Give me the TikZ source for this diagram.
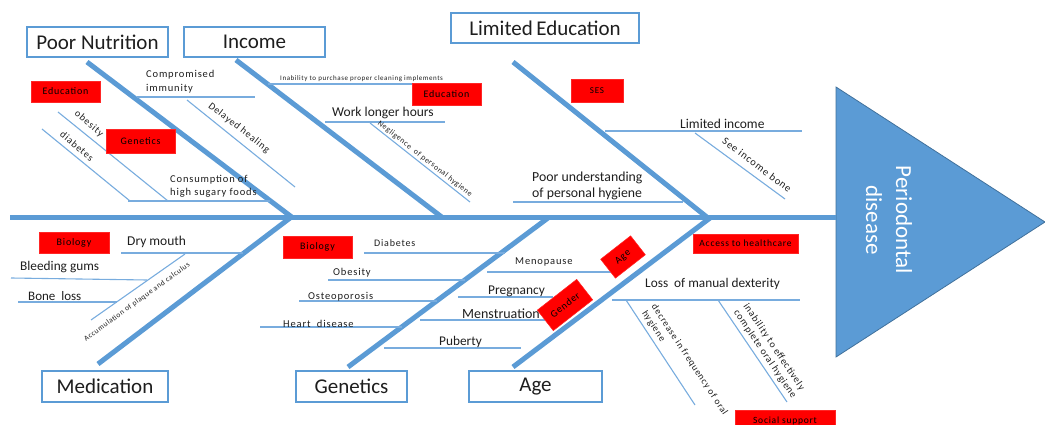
\documentclass[tikz,border=0pt]{standalone}
\usepackage{fontspec}
\setmainfont{Carlito}
\newfontfamily\widefont[LetterSpace=8]{Carlito}
\definecolor{fb}{RGB}{91,155,213}
\definecolor{fbl}{RGB}{120,172,222}
\definecolor{fbd}{RGB}{65,113,156}
\definecolor{tx}{RGB}{30,30,30}
\newcommand{\fs}[1]{\fontsize{#1}{#1}\selectfont}
\newcommand{\ws}[1]{\widefont\fontsize{#1}{#1}\selectfont}
\tikzset{
  bone/.style={line width=5pt, draw=fb},
  twig/.style={line width=1.1pt, draw=fbl},
  catbox/.style={draw=fb, line width=1.2pt, fill=white, text=tx, font=\fs{21}, inner sep=0pt},
  redbox/.style={fill=red, draw=red!85!white, line width=0.5pt, text=black, inner sep=0pt},
  lbl/.style={text=tx, inner sep=0pt},
}
\begin{document}
\begin{tikzpicture}[x=1pt,y=-1pt]
\useasboundingbox (0,0) rectangle (1045,425);
\clip (0,0) rectangle (1045,425);

% head
\fill[fb] (836,87) -- (1045,222) -- (836,357) -- cycle;
\draw[fbd, line width=0.8pt] (836,87) -- (1045,222) -- (836,357) -- cycle;
\node[text=white, rotate=-90, align=center, font=\fontsize{23}{25}\selectfont, inner sep=0pt] (head) at (889,220) {Periodontal\\[5pt]disease};

% spine
\coordinate (s0) at (10,218);
\coordinate (s1) at (836,218);
\draw[bone] (s0) -- (s1);

% bones
\coordinate (pnA) at (87,62);   \coordinate (pnB) at (293,218);
\coordinate (inA) at (236,60);  \coordinate (inB) at (443,218);
\coordinate (leA) at (513,62);  \coordinate (leB) at (708,218);
\coordinate (meA) at (98,364);  \coordinate (meB) at (290,218);
\coordinate (geA) at (348,367); \coordinate (geB) at (548,218);
\coordinate (agA) at (513,367); \coordinate (agB) at (710,218);
\draw[bone] (pnA) -- (pnB);
\draw[bone] (inA) -- (inB);
\draw[bone] (leA) -- (leB);
\draw[bone] (meA) -- (meB);
\draw[bone] (geA) -- (geB);
\draw[bone] (agA) -- (agB);

% category boxes
\node[catbox, minimum width=141pt, minimum height=30pt] (pn) at (97.5,42) {Poor Nutrition};
\node[catbox, minimum width=141pt, minimum height=30pt] (inc) at (254.5,42) {Income};
\node[catbox, minimum width=188pt, minimum height=30pt] (le) at (545,28) {Limited\,Education};
\node[catbox, minimum width=126pt, minimum height=31pt] (med) at (105,386.5) {Medication};
\node[catbox, minimum width=111pt, minimum height=31pt] (gen) at (351.5,386.5) {Genetics};
\node[catbox, minimum width=133pt, minimum height=31pt] (age) at (535.5,386.5) {Age};

% ---- Poor Nutrition twigs
\coordinate (c1a) at (137,97);  \coordinate (c1b) at (255,97);
\coordinate (c2a) at (187,100); \coordinate (c2b) at (295,187);
\coordinate (c3a) at (58,112);  \coordinate (c3b) at (168,201);
\coordinate (c4a) at (42,129);  \coordinate (c4b) at (130,201);
\coordinate (c5a) at (128,201); \coordinate (c5b) at (270,201);
\draw[twig] (c1a) -- (c1b);
\draw[twig] (c2a) -- (c2b);
\draw[twig] (c3a) -- (c3b);
\draw[twig] (c4a) -- (c4b);
\draw[twig] (c5a) -- (c5b);
\node[lbl, anchor=north west, align=left, font=\widefont\fontsize{10.5}{14.5}\selectfont] (cimm) at (146,70) {Compromised\\immunity};
\node[lbl, rotate=-38, font=\ws{10}] (dh) at (239,128) {Delayed healing};
\node[lbl, rotate=-40, font=\ws{10}] (ob) at (89,124) {obesity};
\node[lbl, rotate=-40, font=\ws{10}] (db) at (77,146) {diabetes};
\node[lbl, anchor=north west, align=left, font=\widefont\fontsize{10.5}{13.5}\selectfont] (csf) at (170,175) {Consumption of\\high sugary foods};
\node[redbox, minimum width=69pt, minimum height=21pt, font=\ws{10}] (rb1) at (65.5,91.5) {Education};
\node[redbox, minimum width=69pt, minimum height=24pt, font=\ws{10}] (rb2) at (140.5,141) {Genetics};

% ---- Income twigs
\coordinate (i1a) at (268,84);  \coordinate (i1b) at (413,84);
\coordinate (i2a) at (325,122); \coordinate (i2b) at (445,122);
\coordinate (i3a) at (370,123); \coordinate (i3b) at (470,202);
\draw[twig] (i1a) -- (i1b);
\draw[twig] (i2a) -- (i2b);
\draw[twig] (i3a) -- (i3b);
\node[lbl, anchor=west, font=\ws{7}] (inab) at (280,79) {Inability to purchase proper cleaning implements};
\node[lbl, anchor=west, font=\fs{13.5}] (wlh) at (332,113) {Work longer hours};
\node[lbl, rotate=-38, font=\ws{7.8}] (neg) at (425,159) {Negligence\ \ of personal hygiene};
\node[redbox, minimum width=69pt, minimum height=22pt, font=\ws{10}] (rb3) at (446.5,94) {Education};

% ---- Limited Education twigs
\coordinate (l1a) at (605,131); \coordinate (l1b) at (802,131);
\coordinate (l2a) at (695,133); \coordinate (l2b) at (785,199);
\coordinate (l3a) at (513,202); \coordinate (l3b) at (683,202);
\draw[twig] (l1a) -- (l1b);
\draw[twig] (l2a) -- (l2b);
\draw[twig] (l3a) -- (l3b);
\node[lbl, anchor=west, font=\fs{13.5}] (lim) at (680,124) {Limited income};
\node[lbl, rotate=-37, font=\ws{10.5}] (see) at (757,165) {See income bone};
\node[lbl, anchor=north west, align=left, font=\fontsize{13.8}{15.5}\selectfont] (pu) at (532,172) {Poor understanding\\of personal hygiene};
\node[redbox, minimum width=52pt, minimum height=23pt, font=\ws{9}] (rb4) at (597,90.5) {SES};

% ---- Medication twigs
\coordinate (m1a) at (121,253); \coordinate (m1b) at (243,253);
\coordinate (m2a) at (11,278);  \coordinate (m2b) at (147,280);
\coordinate (m3a) at (18,302);  \coordinate (m3b) at (117,302);
\coordinate (m4a) at (185,254); \coordinate (m4b) at (91,320);
\draw[twig] (m1a) -- (m1b);
\draw[twig] (m2a) -- (m2b);
\draw[twig] (m3a) -- (m3b);
\draw[twig] (m4a) -- (m4b);
\node[lbl, anchor=west, font=\fs{13.5}] (dry) at (127,242) {Dry mouth};
\node[lbl, anchor=west, font=\fs{13.3}] (bg) at (20,267) {Bleeding gums};
\node[lbl, anchor=west, font=\fs{13}] (bl) at (28,296) {Bone\ \ loss};
\node[lbl, rotate=36, font=\ws{7.5}] (acc) at (137,302) {Accumulation of plaque and calculus};
\node[redbox, minimum width=70pt, minimum height=21pt, font=\ws{10}] (rb5) at (74,242.5) {Biology};

% ---- Genetics twigs
\coordinate (g1a) at (364,253); \coordinate (g1b) at (505,253);
\coordinate (g2a) at (328,280); \coordinate (g2b) at (465,280);
\coordinate (g3a) at (299,301); \coordinate (g3b) at (437,301);
\coordinate (g4a) at (260,327); \coordinate (g4b) at (402,327);
\draw[twig] (g1a) -- (g1b);
\draw[twig] (g2a) -- (g2b);
\draw[twig] (g3a) -- (g3b);
\draw[twig] (g4a) -- (g4b);
\node[lbl, anchor=west, font=\ws{10}] (gd) at (374,243) {Diabetes};
\node[lbl, anchor=west, font=\ws{10.5}] (go) at (333,273) {Obesity};
\node[lbl, anchor=west, font=\ws{10.5}] (gos) at (308,297) {Osteoporosis};
\node[lbl, anchor=west, font=\ws{10.5}] (gh) at (283,324) {Heart\ \ disease};
\node[redbox, minimum width=69pt, minimum height=22pt, font=\ws{10}] (rb6) at (317.5,247) {Biology};

% ---- Age twigs
\coordinate (a1a) at (487,272); \coordinate (a1b) at (612,272);
\coordinate (a2a) at (458,297); \coordinate (a2b) at (553,297);
\coordinate (a3a) at (420,320); \coordinate (a3b) at (545,320);
\coordinate (a4a) at (384,348); \coordinate (a4b) at (521,348);
\coordinate (a5a) at (612,300); \coordinate (a5b) at (800,300);
\coordinate (a6a) at (626,300); \coordinate (a6b) at (695,405);
\coordinate (a7a) at (718,300); \coordinate (a7b) at (787,402);
\draw[twig] (a1a) -- (a1b);
\draw[twig] (a2a) -- (a2b);
\draw[twig] (a3a) -- (a3b);
\draw[twig] (a4a) -- (a4b);
\draw[twig] (a5a) -- (a5b);
\draw[twig] (a6a) -- (a6b);
\draw[twig] (a7a) -- (a7b);
\node[lbl, anchor=west, font=\ws{10.5}] (amen) at (515,262) {Menopause};
\node[lbl, anchor=west, font=\fs{13.4}] (apr) at (488,291) {Pregnancy};
\node[lbl, anchor=west, font=\fs{14}] (ams) at (462,314) {Menstruation};
\node[lbl, anchor=west, font=\fs{13.3}] (apu) at (439,342) {Puberty};
\node[lbl, anchor=west, font=\fs{13.3}] (alm) at (645,284) {Loss\ \ of manual dexterity};
\node[lbl, rotate=-56.5, anchor=north west, align=left, font=\widefont\fontsize{9.5}{11.5}\selectfont] (adec) at (657,303) {decrease in frequency of oral\\hygiene};
\node[lbl, rotate=-56, anchor=north west, align=left, font=\widefont\fontsize{10}{11.5}\selectfont] (ainab) at (749,302) {inability to effectively\\complete oral hygiene};
\node[redbox, rotate=38, minimum width=50pt, minimum height=26pt, font=\ws{10}] (rb7) at (565,305) {Gender};
\node[redbox, rotate=38, minimum width=38pt, minimum height=24pt, font=\ws{10}] (rb8) at (623,257) {Age};
\node[redbox, minimum width=105pt, minimum height=19pt, font=\ws{9.5}] (rb9) at (745.5,243.5) {Access to healthcare};
\node[redbox, minimum width=100pt, minimum height=22pt, font=\ws{9.5}] (rb10) at (785,421) {Social support};
\end{tikzpicture}
\end{document}
